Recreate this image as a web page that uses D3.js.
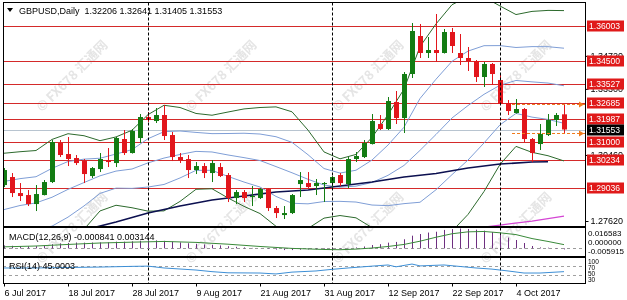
<!DOCTYPE html>
<html><head><meta charset="utf-8">
<script src="https://cdn.jsdelivr.net/npm/d3@7"></script>
<style>
html,body{margin:0;padding:0;background:#fff;}
svg{display:block;font-family:'Liberation Sans',Arial,sans-serif;}
</style>
</head><body>
<svg id="chart" width="627" height="300"></svg>
<script>
// ---- data -------------------------------------------------------------
const dates = [
  "2017-07-06","2017-07-07","2017-07-10","2017-07-11","2017-07-12","2017-07-13","2017-07-14","2017-07-17",
  "2017-07-18","2017-07-19","2017-07-20","2017-07-21","2017-07-24","2017-07-25","2017-07-26","2017-07-27",
  "2017-07-28","2017-07-31","2017-08-01","2017-08-02","2017-08-03","2017-08-04","2017-08-07","2017-08-08",
  "2017-08-09","2017-08-10","2017-08-11","2017-08-14","2017-08-15","2017-08-16","2017-08-17","2017-08-18",
  "2017-08-21","2017-08-22","2017-08-23","2017-08-24","2017-08-25","2017-08-28","2017-08-29","2017-08-30",
  "2017-08-31","2017-09-01","2017-09-04","2017-09-05","2017-09-06","2017-09-07","2017-09-08","2017-09-11",
  "2017-09-12","2017-09-13","2017-09-14","2017-09-15","2017-09-18","2017-09-19","2017-09-20","2017-09-21",
  "2017-09-22","2017-09-25","2017-09-26","2017-09-27","2017-09-28","2017-09-29","2017-10-02","2017-10-03",
  "2017-10-04","2017-10-05","2017-10-06","2017-10-09","2017-10-10","2017-10-11","2017-10-12"];

const open = [1.29166,1.29510,1.28822,1.28736,1.28349,1.28736,1.29295,1.30972,1.30499,1.30327,1.30198,1.29553,1.29854,1.30241,1.30112,1.31144,1.30542,1.31187,1.32090,1.31918,
  1.32176,1.31316,1.30370,1.30284,1.29811,1.29983,1.29682,1.29940,1.29596,1.28607,1.28865,1.28650,1.28607,1.28994,1.28177,1.27876,1.27962,1.29209,1.29252,1.29123,
  1.29209,1.29252,1.29596,1.29209,1.30284,1.30370,1.30929,1.31789,1.31574,1.32735,1.32047,1.33939,1.35573,1.34842,1.34971,1.34842,1.35745,1.34842,1.34627,1.34498,
  1.33810,1.34369,1.33681,1.32692,1.32262,1.32434,1.31144,1.30929,1.31316,1.31961,1.32206];
const high = [1.29897,1.29682,1.29252,1.28951,1.29166,1.29381,1.31101,1.31101,1.31230,1.30456,1.30284,1.29940,1.30542,1.30757,1.31230,1.31531,1.31574,1.32219,1.32305,1.32477,
  1.32606,1.31445,1.30542,1.30456,1.30155,1.30112,1.30241,1.30112,1.29682,1.28951,1.28951,1.29123,1.29037,1.29037,1.28263,1.28263,1.28779,1.29725,1.29725,1.29424,
  1.29295,1.29553,1.29682,1.30370,1.30585,1.31101,1.32219,1.32176,1.32950,1.33208,1.34025,1.36132,1.36089,1.35530,1.36519,1.35874,1.35917,1.35659,1.35100,1.34541,
  1.34455,1.34412,1.33896,1.32821,1.32864,1.32477,1.31187,1.31789,1.32219,1.32262,1.32641];
const low = [1.29080,1.28650,1.28478,1.28263,1.28048,1.28720,1.29252,1.30370,1.29983,1.30026,1.29252,1.29467,1.29725,1.29940,1.29940,1.30456,1.30520,1.30972,1.31875,1.31832,
  1.31101,1.30198,1.30112,1.29467,1.29639,1.29467,1.29295,1.29510,1.28435,1.28349,1.28435,1.28263,1.28564,1.28048,1.27747,1.27704,1.27919,1.28650,1.29037,1.28736,
  1.28435,1.29080,1.29123,1.29037,1.30155,1.30327,1.30910,1.31531,1.31531,1.31789,1.31402,1.33767,1.34627,1.34627,1.34455,1.34820,1.34842,1.34326,1.34068,1.33595,
  1.33380,1.33466,1.32630,1.32176,1.32240,1.31015,1.30155,1.30671,1.31273,1.31703,1.31405];
const close = [1.29811,1.28822,1.28693,1.28349,1.28779,1.29295,1.31015,1.30456,1.30284,1.30112,1.29639,1.29897,1.30284,1.30155,1.31187,1.30542,1.31488,1.32090,1.31961,1.32176,
  1.31273,1.30370,1.30241,1.29811,1.29983,1.29682,1.30112,1.29553,1.28607,1.28865,1.28607,1.28693,1.28994,1.28177,1.27962,1.27962,1.28736,1.29381,1.29080,1.29252,
  1.29252,1.29510,1.29252,1.30284,1.30413,1.30972,1.31918,1.31574,1.32778,1.32047,1.33939,1.35788,1.34842,1.34971,1.34842,1.35745,1.35143,1.34627,1.34498,1.33810,
  1.34369,1.33939,1.32649,1.32348,1.32434,1.31144,1.30542,1.31359,1.31961,1.32176,1.31553];

// Bollinger envelopes (20 bars; outer 2 dev, inner 1 dev), sampled every second bar
const bandAt = [0,2,4,6,8,10,12,14,16,18,20,22,24,26,28,30,32,34,36,38,40,42,44,46,48,50,52,54,56,58,60,62,64,66,68,70];
const bbUpper2 = [1.30533,1.30598,1.30650,1.31127,1.31372,1.31286,1.31073,1.31234,1.31522,1.32193,1.32595,1.32499,1.32243,1.32167,1.32305,1.32438,1.32499,1.32526,1.32314,1.31527,
  1.30589,1.30293,1.30482,1.31213,1.32189,1.33290,1.35117,1.36091,1.36919,1.37263,1.37246,1.36863,1.36495,1.36631,1.36674,1.36665];
const bbUpper1 = [1.29321,1.29441,1.29523,1.29884,1.30177,1.30280,1.30318,1.30499,1.30688,1.31157,1.31460,1.31489,1.31428,1.31376,1.31381,1.31393,1.31359,1.31243,1.31002,1.30469,
  1.29876,1.29682,1.29802,1.30241,1.30886,1.31651,1.32886,1.33715,1.34485,1.34924,1.35156,1.35160,1.35079,1.35117,1.35113,1.35048];
const bbMid = [1.28110,1.28286,1.28398,1.28641,1.28980,1.29273,1.29562,1.29766,1.29855,1.30118,1.30325,1.30480,1.30613,1.30587,1.30458,1.30344,1.30220,1.29959,1.29693,1.29413,
  1.29166,1.29074,1.29119,1.29274,1.29583,1.30009,1.30656,1.31340,1.32049,1.32582,1.33066,1.33457,1.33662,1.33601,1.33550,1.33434];
const bbLower1 = [1.26896,1.27128,1.27270,1.27399,1.27786,1.28267,1.28805,1.29033,1.29022,1.29080,1.29190,1.29470,1.29798,1.29798,1.29536,1.29295,1.29080,1.28676,1.28383,1.28358,
  1.28457,1.28465,1.28435,1.28306,1.28280,1.28366,1.28426,1.28964,1.29613,1.30241,1.30976,1.31755,1.32245,1.32086,1.31987,1.31819];
const bbLower2 = [1.25683,1.25971,1.26143,1.26156,1.26590,1.27261,1.28052,1.28297,1.28190,1.28044,1.28054,1.28461,1.28983,1.29007,1.28611,1.28250,1.27941,1.27392,1.27072,1.27300,
  1.27743,1.27855,1.27756,1.27334,1.26977,1.26728,1.26195,1.26586,1.27179,1.27902,1.28887,1.30052,1.30828,1.30572,1.30426,1.30202];

// slow moving averages
const slowAt = [11,14,18,22,26,30,34,38,42,46,50,54,58,62,66,68];
const slowMa = [1.27317,1.27575,1.27962,1.28263,1.28521,1.28693,1.28865,1.28951,1.29123,1.29295,1.29510,1.29661,1.29897,1.30069,1.30155,1.30168];
const longAt = [60,62,66,70];
const longMa = [1.27360,1.27446,1.27618,1.27833];

// horizontal levels
const levels = [1.36003,1.34500,1.33527,1.32685,1.31987,1.31000,1.30234,1.29036];
const priceTicks = [1.34720,1.33300,1.30460,1.27620];
const bid = 1.31553;
const dayHigh = 1.32641, dayLow = 1.31405;
const monthStarts = ["2017-08-01","2017-09-01","2017-10-02"];
const dateTicks = ["2017-07-06","2017-07-18","2017-07-28","2017-08-09","2017-08-21","2017-08-31","2017-09-12","2017-09-22","2017-10-04"];

// MACD(12,26,9)
const macdMain = [0.0025,0.0022,0.0020,0.0018,0.0019,0.0023,0.0035,0.0042,0.0046,0.0049,0.0048,0.0049,0.0050,0.0051,0.0056,0.0056,0.0059,0.0064,0.0066,0.0067,
  0.0063,0.0056,0.0050,0.0043,0.0038,0.0033,0.0030,0.0025,0.0018,0.0013,0.0008,0.0004,0.0001,-0.0004,-0.0010,-0.0014,-0.0014,-0.0011,-0.0009,-0.0008,
  -0.0007,-0.0005,-0.0004,0.0002,0.0008,0.0016,0.0028,0.0035,0.0048,0.0054,0.0076,0.0106,0.0120,0.0132,0.0139,0.0154,0.0161,0.016583,0.0162,0.0156,
  0.0148,0.0136,0.0113,0.0090,0.0070,0.0045,0.0020,0.0008,0.0006,0.0003,-0.000841];
const signalAt = [0,4,8,12,16,20,24,28,32,36,40,42,44,46,48,50,52,54,56,58,60,62,64,66,68,70];
const macdSignal = [0.0013,0.0020,0.0033,0.0045,0.0052,0.0058,0.0050,0.0035,0.0016,0.0000,-0.0009,-0.0011,-0.0006,0.0003,0.0016,0.0033,0.0060,0.0093,0.0122,0.0138,
  0.0141,0.0130,0.0115,0.0082,0.0058,0.003144];
const macdMax = 0.016583, macdMin = -0.005915;

// RSI(14)
const rsiAt = [0,4,8,12,16,18,20,24,26,28,32,34,36,39,41,43,46,48,49,51,52,55,59,61,63,65,67,70];
const rsi = [61,61,63,65,68,69,61,52,45,40,39,35,43,48,55,61,69,74,66,78,70,74,61,56,48,39,39,45.0003];
const rsiLevels = [100,70,50,30];

// ---- layout ------------------------------------------------------------
const svg = d3.select("#chart");
const L = 3, R = 585.5;
const main = {top: 2.5, bottom: 226.5};
const macdP = {top: 227.5, bottom: 256.5};
const rsiP = {top: 257.5, bottom: 283.5};

const x = d3.scalePoint().domain(dates).range([4, 564]);
const y = d3.scaleLinear().domain([1.27620, 1.36003]).range([221, 26]);
const yM = d3.scaleLinear().domain([macdMin, macdMax]).range([255.5, 228.5]);
const yR = d3.scaleLinear().domain([0, 100]).range([282, 259]);
const xi = i => x(dates[i]);

svg.append("rect").attr("width", 627).attr("height", 300).attr("fill", "#fff");

const defs = svg.append("defs");
function clip(id, p) {
  defs.append("clipPath").attr("id", id).append("rect")
    .attr("x", L).attr("y", p.top).attr("width", R - L).attr("height", p.bottom - p.top);
}
clip("cMain", main); clip("cMacd", macdP); clip("cRsi", rsiP);

// watermark
const wm = svg.append("g").attr("fill", "#cfcfcf").attr("opacity", 0.55)
  .attr("font-family", "'Noto Sans CJK SC','Liberation Sans',sans-serif")
  .attr("font-size", 13).attr("font-weight", "bold");
[72, 221, 368, 516].forEach(cx => [76, 228].forEach(cy => {
  wm.append("text").attr("transform", `translate(${cx},${cy}) rotate(-45)`)
    .attr("text-anchor", "middle").attr("dy", "0.35em").text("© FX678 汇通网");
}));

// ---- main panel ----------------------------------------------------------
const gm = svg.append("g").attr("clip-path", "url(#cMain)");

// bid line
gm.append("line").attr("x1", L).attr("x2", R).attr("y1", Math.round(y(bid)) + 0.5).attr("y2", Math.round(y(bid)) + 0.5)
  .attr("stroke", "#b8c4d0");

// level lines
gm.selectAll("line.lvl").data(levels).join("line").attr("class", "lvl")
  .attr("x1", L).attr("x2", R)
  .attr("y1", d => Math.round(y(d)) + 0.5).attr("y2", d => Math.round(y(d)) + 0.5)
  .attr("stroke", "#d42a2a");

// envelopes
const lineOf = (idx, vals, sc) => d3.line().x((d, k) => xi(idx[k])).y(d => sc(d))(vals);
const blue = "#7f9ed6", dgreen = "#2d6a2d";
[[bbUpper1, blue], [bbMid, blue], [bbLower1, blue], [bbUpper2, dgreen], [bbLower2, dgreen]].forEach(([v, c]) => {
  gm.append("path").attr("d", lineOf(bandAt, v, y)).attr("fill", "none").attr("stroke", c).attr("stroke-width", 1);
});
gm.append("path").attr("d", lineOf(slowAt, slowMa, y)).attr("fill", "none").attr("stroke", "#0c1050").attr("stroke-width", 1.6);
gm.append("path").attr("d", lineOf(longAt, longMa, y)).attr("fill", "none").attr("stroke", "#d445d4").attr("stroke-width", 1.2);

// separators
svg.append("g").selectAll("line").data(monthStarts).join("line")
  .attr("x1", d => x(d) + 0.5).attr("x2", d => x(d) + 0.5)
  .attr("y1", main.top).attr("y2", rsiP.bottom)
  .attr("stroke", "#000").attr("stroke-dasharray", "3,2");

// candles
const up = "#137c13", dn = "#e2161c";
const cg = gm.append("g");
dates.forEach((d, i) => {
  const cx = Math.round(xi(i));
  const col = close[i] >= open[i] ? up : dn;
  cg.append("line").attr("x1", cx + 0.5).attr("x2", cx + 0.5)
    .attr("y1", y(high[i])).attr("y2", y(low[i])).attr("stroke", col);
  const yt = y(Math.max(open[i], close[i])), yb = y(Math.min(open[i], close[i]));
  cg.append("rect").attr("x", cx - 2).attr("width", 5)
    .attr("y", yt).attr("height", Math.max(1, yb - yt)).attr("fill", col);
});

// today's high / low markers
[dayHigh, dayLow].forEach(v => {
  const yy = Math.round(y(v)) + 0.5;
  gm.append("line").attr("x1", 512).attr("x2", R).attr("y1", yy).attr("y2", yy)
    .attr("stroke", "#f07a1c").attr("stroke-dasharray", "3,2");
  gm.append("path").attr("d", `M579,${yy - 3}L584,${yy}L579,${yy + 3}Z`).attr("fill", "#f07a1c");
});

// ---- MACD panel -------------------------------------------------------------
const gmacd = svg.append("g").attr("clip-path", "url(#cMacd)");
gmacd.append("line").attr("x1", L).attr("x2", R).attr("y1", Math.round(yM(0)) + 0.5).attr("y2", Math.round(yM(0)) + 0.5)
  .attr("stroke", "#9a9a9a").attr("stroke-dasharray", "3,3");
gmacd.selectAll("line.h").data(macdMain).join("line").attr("class", "h")
  .attr("x1", (d, i) => Math.round(xi(i)) + 0.5).attr("x2", (d, i) => Math.round(xi(i)) + 0.5)
  .attr("y1", yM(0)).attr("y2", d => yM(d))
  .attr("stroke", "#6e2f80");
gmacd.append("path").attr("d", lineOf(signalAt, macdSignal, yM)).attr("fill", "none").attr("stroke", "#3a8a3a");

// ---- RSI panel --------------------------------------------------------------
const grsi = svg.append("g").attr("clip-path", "url(#cRsi)");
[70, 30].forEach(v => grsi.append("line").attr("x1", L).attr("x2", R)
  .attr("y1", Math.round(yR(v)) + 0.5).attr("y2", Math.round(yR(v)) + 0.5)
  .attr("stroke", "#a0a0a0").attr("stroke-dasharray", "3,3"));
grsi.append("path").attr("d", lineOf(rsiAt, rsi, yR)).attr("fill", "none").attr("stroke", "#3d8fd6");

// ---- frames ---------------------------------------------------------------------
[main, macdP, rsiP].forEach(p => svg.append("rect")
  .attr("x", L + 0.5).attr("y", p.top).attr("width", R - L - 0.5).attr("height", p.bottom - p.top)
  .attr("fill", "none").attr("stroke", "#000"));

// ---- texts --------------------------------------------------------------------------
const fs = 9;
svg.append("path").attr("d", "M7,8L13,8L10,12Z").attr("fill", "#000");
svg.append("text").attr("x", 19).attr("y", 14).attr("font-size", fs).attr("fill", "#000")
  .attr("xml:space", "preserve")
  .text(`GBPUSD,Daily  ${open[70].toFixed(5)} ${high[70].toFixed(5)} ${low[70].toFixed(5)} ${close[70].toFixed(5)}`);
svg.append("text").attr("x", 9).attr("y", 240).attr("font-size", fs).attr("fill", "#000")
  .text(`MACD(12,26,9) ${macdMain[70].toFixed(6)} ${macdSignal[macdSignal.length - 1].toFixed(6)}`);
svg.append("text").attr("x", 9).attr("y", 269).attr("font-size", fs).attr("fill", "#000")
  .text(`RSI(14) ${rsi[rsi.length - 1].toFixed(4)}`);

// price axis
const pa = svg.append("g").attr("transform", `translate(${R},0)`)
  .call(d3.axisRight(y).tickValues(priceTicks).tickFormat(d3.format(".5f")).tickSize(3).tickPadding(2));
pa.select(".domain").remove();
pa.selectAll("text").attr("font-size", fs).attr("font-family", "'Liberation Sans',Arial,sans-serif").attr("fill", "#000");
pa.selectAll("line").attr("stroke", "#000");

// level tags
function tag(v, bg) {
  const yy = Math.round(y(v));
  svg.append("rect").attr("x", 587).attr("y", yy - 5.5).attr("width", 37).attr("height", 11).attr("fill", bg);
  svg.append("text").attr("x", 589).attr("y", yy + 3).attr("font-size", 8.6).attr("fill", "#fff").text(v.toFixed(5));
}
levels.forEach(v => tag(v, "#e01a1a"));
tag(bid, "#000");

// MACD / RSI scale labels
svg.append("text").attr("x", 588).attr("y", 236).attr("font-size", 8).text(macdMax.toFixed(6));
svg.append("text").attr("x", 588).attr("y", 245).attr("font-size", 8).text((0).toFixed(6));
svg.append("text").attr("x", 588).attr("y", 254).attr("font-size", 8).text(macdMin.toFixed(6));
rsiLevels.forEach((v, k) =>
  svg.append("text").attr("x", 588).attr("y", 263.5 + k * 6.2).attr("font-size", 6.5).text(v));

// time axis
const ta = svg.append("g").attr("transform", `translate(0,${rsiP.bottom})`)
  .call(d3.axisBottom(x).tickValues(dateTicks).tickSize(3)
    .tickFormat(d => d3.utcFormat("%-d %b %Y")(new Date(d + "T00:00:00Z"))));
ta.select(".domain").remove();
ta.selectAll("text").attr("text-anchor", "start").attr("x", 0).attr("font-size", fs)
  .attr("font-family", "'Liberation Sans',Arial,sans-serif").attr("fill", "#000");
ta.selectAll("line").attr("stroke", "#000");
</script>
</body></html>
